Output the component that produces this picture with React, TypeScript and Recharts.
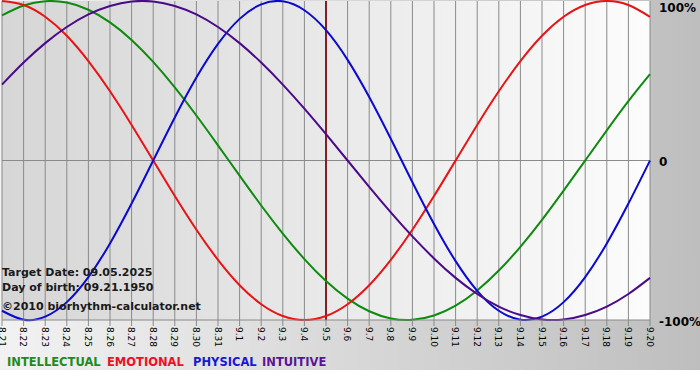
import React from 'react';
import { LineChart, Line, XAxis, YAxis, CartesianGrid, ReferenceLine } from 'recharts';

const days = [
  '8.21', '8.22', '8.23', '8.24', '8.25', '8.26', '8.27', '8.28', '8.29', '8.30', '8.31',
  '9.1', '9.2', '9.3', '9.4', '9.5', '9.6', '9.7', '9.8', '9.9', '9.10',
  '9.11', '9.12', '9.13', '9.14', '9.15', '9.16', '9.17', '9.18', '9.19', '9.20',
];

const intellectual = [
  0.910, 0.972, 0.999, 0.990, 0.945, 0.866, 0.756, 0.618, 0.458, 0.282, 0.095,
  -0.095, -0.282, -0.458, -0.618, -0.756, -0.866, -0.945, -0.990, -0.999, -0.972,
  -0.910, -0.815, -0.690, -0.541, -0.372, -0.189, 0, 0.189, 0.372, 0.541,
];

const emotional = [
  1, 0.975, 0.901, 0.782, 0.623, 0.434, 0.223, 0, -0.223, -0.434, -0.623,
  -0.782, -0.901, -0.975, -1, -0.975, -0.901, -0.782, -0.623, -0.434, -0.223,
  0, 0.223, 0.434, 0.623, 0.782, 0.901, 0.975, 1, 0.975, 0.901,
];

const physical = [
  -0.942, -0.998, -0.979, -0.888, -0.731, -0.520, -0.270, 0, 0.270, 0.520, 0.731,
  0.888, 0.979, 0.998, 0.942, 0.817, 0.631, 0.398, 0.136, -0.136, -0.398,
  -0.631, -0.817, -0.942, -0.998, -0.979, -0.888, -0.731, -0.520, -0.270, 0,
];

const intuitive = [
  0.476, 0.614, 0.736, 0.837, 0.916, 0.969, 0.997, 0.997, 0.969, 0.916, 0.837,
  0.736, 0.614, 0.476, 0.325, 0.165, 0, -0.165, -0.325, -0.476, -0.614,
  -0.736, -0.837, -0.916, -0.969, -0.997, -0.997, -0.969, -0.916, -0.837, -0.736,
];

const yTicks = [1, 0, -1];
const yLabels: Record<string, string> = { '1': '100%', '0': '0', '-1': '-100%' };
const targetDay = '9.5';

const legend = [
  { label: 'INTELLECTUAL', color: '#1c8c1c', x: 7 },
  { label: 'EMOTIONAL', color: '#ee1020', x: 107 },
  { label: 'PHYSICAL', color: '#1818d4', x: 193 },
  { label: 'INTUITIVE', color: '#5a1498', x: 262 },
];

const info = [
  { text: 'Target Date: 09.05.2025', y: 276 },
  { text: 'Day of birth: 09.21.1950', y: 291 },
  { text: '\u00a92010 biorhythm-calculator.net', y: 310 },
];

const data = days.map((day, i) => ({
  day,
  intellectual: intellectual[i],
  emotional: emotional[i],
  physical: physical[i],
  intuitive: intuitive[i],
}));

const XTick = (props: any) => {
  const { x, y, payload } = props;
  return (
    <g transform={`translate(${x},${y})`}>
      <text
        transform="rotate(90)"
        x={0}
        y={3.5}
        textAnchor="start"
        fontSize={9}
        fontFamily="'DejaVu Sans', sans-serif"
        fill="#000"
      >
        {payload.value}
      </text>
    </g>
  );
};

const YTick = (props: any) => {
  const { x, y, payload } = props;
  const dy = payload.value === 1 ? 10.5 : payload.value === 0 ? 5.5 : 6;
  return (
    <text
      x={x}
      y={y + dy}
      textAnchor="start"
      fontSize={12}
      fontWeight="bold"
      fontFamily="'DejaVu Sans', sans-serif"
      fill="#000"
    >
      {yLabels[String(payload.value)]}
    </text>
  );
};

const App: React.FC = () => {
  return (
    <div style={{ position: 'absolute', left: 0, top: 0, width: 700, height: 380, background: '#fff', overflow: 'hidden' }}>
      {/* outer gray band */}
      <div style={{ position: 'absolute', left: 0, top: 0, width: 700, height: 370, background: 'linear-gradient(to right, #f2f2f2, #bebebe)' }} />
      {/* plot background */}
      <div style={{ position: 'absolute', left: 2, top: 1, width: 648, height: 319, background: 'linear-gradient(to right, #d6d6d6, #fcfcfc)' }} />

      <div style={{ position: 'absolute', left: 0, top: 0 }}>
        <LineChart width={700} height={380} data={data} margin={{ top: 1, right: 0, bottom: 0, left: 2 }}>
          <CartesianGrid horizontal={false} stroke="#8a8a8a" />
          <XAxis
            dataKey="day"
            interval={0}
            tickSize={6}
            tickMargin={1}
            height={60}
            stroke="#8a8a8a"
            tick={<XTick />}
          />
          <YAxis
            orientation="right"
            domain={[-1, 1]}
            ticks={yTicks}
            interval={0}
            width={50}
            axisLine={false}
            tickLine={false}
            tickSize={0}
            tickMargin={9}
            tick={<YTick />}
          />
          <ReferenceLine y={0} stroke="#8a8a8a" />
          <ReferenceLine x={targetDay} stroke="#862020" strokeWidth={2} />
          <Line type="natural" dataKey="intellectual" stroke="#0f8a0f" strokeWidth={2} dot={false} activeDot={false} isAnimationActive={false} />
          <Line type="natural" dataKey="emotional" stroke="#e81414" strokeWidth={2} dot={false} activeDot={false} isAnimationActive={false} />
          <Line type="natural" dataKey="physical" stroke="#0a0ad0" strokeWidth={2} dot={false} activeDot={false} isAnimationActive={false} />
          <Line type="natural" dataKey="intuitive" stroke="#4a0a8a" strokeWidth={2} dot={false} activeDot={false} isAnimationActive={false} />
        </LineChart>
      </div>

      {/* info text and legend */}
      <svg width={700} height={380} style={{ position: 'absolute', left: 0, top: 0, pointerEvents: 'none' }}>
        {info.map((t) => (
          <text key={t.text} x={2} y={t.y} fontSize={11} fontWeight="bold" fontFamily="'DejaVu Sans', sans-serif" fill="#1a1a1a">
            {t.text}
          </text>
        ))}
        {legend.map((l) => (
          <text key={l.label} x={l.x} y={366} fontSize={11.5} fontWeight="bold" fontFamily="'DejaVu Sans', sans-serif" fill={l.color}>
            {l.label}
          </text>
        ))}
      </svg>
    </div>
  );
};

export default App;
